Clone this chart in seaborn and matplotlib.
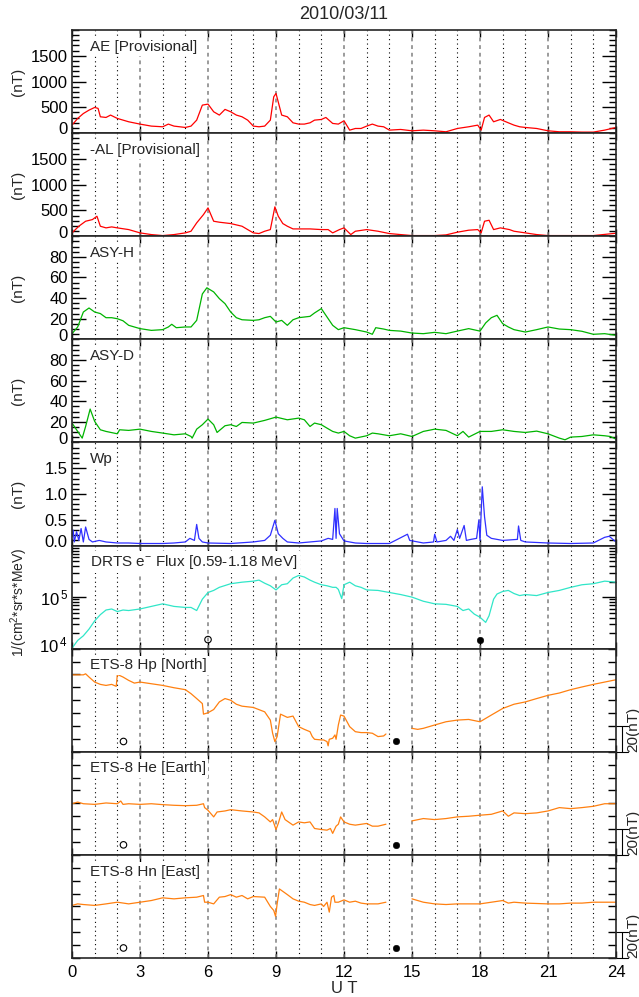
import numpy as np
import pandas as pd
import seaborn as sns
import matplotlib.pyplot as plt
import matplotlib.transforms as mtrans
from matplotlib.ticker import MultipleLocator, LogLocator, NullFormatter

# ---- data (UT hours) ----
ae_t = [0, 0.25, 0.5, 0.75, 1.0, 1.15, 1.25, 1.5, 1.7, 2.0, 2.5, 3.0, 3.5, 4.0, 4.25, 4.5, 5.0, 5.25, 5.5, 5.75,
        6.0, 6.25, 6.5, 6.75, 7.0, 7.25, 7.5, 7.75, 8.0, 8.25, 8.5, 8.75, 8.9, 9.0, 9.25, 9.5, 9.75, 10.0, 10.25,
        10.5, 10.7, 11.0, 11.2, 11.5, 11.75, 12.0, 12.25, 12.5, 12.75, 13.0, 13.25, 13.5, 13.75, 14.0, 14.5, 15.0,
        15.5, 16.0, 16.5, 17.0, 17.5, 17.9, 18.05, 18.2, 18.4, 18.6, 18.9, 19.25, 19.5, 19.75, 20.0, 20.5, 21.0,
        21.5, 22.0, 22.5, 23.0, 23.5, 24.0]
ae_v = [155, 285, 380, 446, 498, 480, 317, 304, 350, 285, 220, 175, 136, 123, 175, 136, 110, 136, 252, 543,
        563, 414, 350, 460, 414, 350, 317, 252, 136, 123, 136, 252, 705, 770, 350, 317, 200, 175, 175,
        200, 252, 265, 304, 188, 175, 240, 58, 90, 90, 136, 175, 136, 123, 58, 71, 45,
        58, 45, 26, 90, 123, 155, 58, 304, 350, 220, 265, 200, 155, 123, 110, 90, 45,
        26, 26, 20, 20, 58, 110]

al_t = [0, 0.3, 0.6, 0.9, 1.1, 1.25, 1.5, 1.75, 2.0, 2.5, 3.0, 3.5, 4.0, 4.5, 5.0, 5.25, 5.5, 5.8, 6.0, 6.25,
        6.5, 7.0, 7.5, 7.75, 8.0, 8.25, 8.5, 8.75, 8.95, 9.1, 9.3, 9.5, 9.75, 10.0, 10.5, 11.0, 11.3, 11.5, 11.8,
        12.0, 12.3, 12.5, 13.0, 13.5, 14.0, 14.5, 15.0, 16.0, 16.5, 17.0, 17.5, 17.9, 18.05, 18.2, 18.4, 18.6,
        18.9, 19.3, 19.5, 20.0, 20.5, 21.0, 22.0, 23.0, 24.0]
al_v = [65, 194, 291, 323, 388, 194, 162, 181, 162, 129, 65, 32, 13, 32, 65, 97, 259, 420, 550, 291,
        272, 246, 194, 129, 65, 52, 97, 129, 570, 388, 246, 194, 142, 142, 142, 129, 129, 65, 129,
        162, 32, 97, 129, 97, 52, 32, 13, 13, 26, 78, 117, 129, 65, 291, 310, 129,
        162, 129, 97, 65, 32, 13, 13, 13, 58]

asyh_t = [0, 0.25, 0.5, 0.75, 1.0, 1.25, 1.5, 1.75, 2.0, 2.25, 2.5, 3.0, 3.5, 4.0, 4.25, 4.4, 4.6, 5.0, 5.25,
          5.5, 5.75, 5.95, 6.25, 6.5, 6.75, 7.0, 7.25, 7.5, 8.0, 8.25, 8.5, 8.75, 9.0, 9.25, 9.5, 9.75, 10.0,
          10.5, 10.7, 11.0, 11.25, 11.5, 11.75, 12.0, 12.5, 13.0, 13.25, 13.4, 13.75, 14.0, 14.5, 15.0, 15.5,
          16.0, 16.5, 17.0, 17.5, 18.0, 18.25, 18.5, 18.75, 19.0, 19.25, 19.5, 20.0, 20.5, 21.0, 21.5, 22.0,
          22.5, 23.0, 23.5, 24.0]
asyh_v = [5.5, 12, 26.5, 30.4, 26.5, 25, 21, 21, 20, 18, 13.6, 10.4, 8.7, 9.4, 12, 14.6, 11.3, 12, 12,
          18.4, 44, 50, 46, 39.5, 34.6, 26.5, 21, 19, 18.4, 19, 21, 22.3, 16.8, 18.4, 13.6, 19, 21,
          22.3, 25.6, 29.8, 21.7, 13.6, 9.4, 11.3, 9.4, 7.1, 4.9, 11.3, 10, 8.7, 8, 6.1, 5.5,
          6.8, 5.5, 8, 10.4, 8, 15.9, 21, 23.3, 15.2, 12, 9.4, 7.1, 9.4, 12, 10, 9.4,
          7.8, 4.9, 5.5, 3.9]

asyd_t = [0, 0.25, 0.45, 0.6, 0.8, 1.0, 1.25, 1.5, 2.0, 2.1, 2.5, 3.0, 3.5, 4.0, 4.5, 5.0, 5.25, 5.3, 5.5,
          5.75, 6.0, 6.25, 6.4, 6.75, 7.0, 7.25, 7.5, 8.0, 8.5, 9.0, 9.5, 10.0, 10.25, 10.5, 10.7, 11.0, 11.25,
          11.5, 11.75, 12.0, 12.25, 12.5, 13.0, 13.25, 13.5, 14.0, 14.5, 15.0, 15.5, 16.0, 16.5, 17.0, 17.25,
          17.5, 18.0, 18.5, 19.0, 19.5, 20.0, 20.5, 21.0, 21.5, 21.75, 22.0, 22.5, 23.0, 23.5, 23.75, 24.0]
asyd_v = [18.8, 10.7, 4.2, 15.5, 32.4, 20.4, 12.3, 10.7, 8.4, 12.3, 11.7, 12.9, 10.7, 9.1, 7.4, 8.4, 5.8, 4.2, 12.9,
          17.2, 22.7, 17.2, 9.7, 16.2, 17.2, 15.5, 19.4, 18.8, 21.4, 24.6, 22, 23.6, 22, 15.5, 18.8, 17.2, 13.9,
          10.7, 9.1, 10.7, 6.5, 4.2, 6.5, 9.1, 8.4, 6.5, 8.4, 5.8, 10.7, 12.9, 11.7, 6.5, 10.7,
          5.2, 10.7, 10.7, 12.3, 10.7, 9.7, 11, 8.4, 4.2, 2.6, 5.2, 5.8, 7.4, 6.5, 5.8, 3.2]

wp_t = [0, 0.05, 0.1, 0.2, 0.3, 0.4, 0.5, 0.6, 0.75, 0.9, 1.2, 1.5, 2.0, 2.5, 3.0, 4.0, 4.5, 5.0, 5.2, 5.4,
        5.5, 5.6, 5.75, 6.0, 7.0, 8.0, 8.5, 8.75, 8.95, 9.1, 9.3, 9.5, 10.0, 11.0, 11.3, 11.5, 11.6, 11.65,
        11.7, 11.8, 12.0, 12.5, 13.0, 14.0, 14.8, 14.9, 15.5, 15.95, 16.0, 16.1, 16.5, 16.7, 16.85, 17.0,
        17.1, 17.3, 17.4, 17.6, 17.85, 17.95, 18.0, 18.1, 18.2, 18.3, 18.5, 19.0, 19.65, 19.7, 19.8, 20.0,
        21.0, 22.0, 23.0, 23.5, 23.7, 24.0]
wp_v = [0.17, 0.3, 0.07, 0.27, 0.1, 0.33, 0.07, 0.36, 0.12, 0.07, 0.1, 0.07, 0.05, 0.05, 0.04, 0.04, 0.05, 0.07,
        0.14, 0.1, 0.41, 0.14, 0.07, 0.05, 0.04, 0.07, 0.1, 0.2, 0.49, 0.23, 0.14, 0.07, 0.05, 0.09, 0.14,
        0.12, 0.72, 0.14, 0.72, 0.23, 0.09, 0.05, 0.04, 0.04, 0.22, 0.1, 0.05, 0.07, 0.22, 0.07, 0.1, 0.18,
        0.1, 0.31, 0.14, 0.39, 0.1, 0.12, 0.14, 0.5, 0.1, 1.14, 0.56, 0.2, 0.14, 0.1, 0.12, 0.38, 0.1,
        0.07, 0.05, 0.04, 0.05, 0.16, 0.18, 0.07]

drts_t = [0, 0.25, 0.5, 0.75, 1.0, 1.25, 1.5, 1.75, 2.0, 2.25, 2.5, 3.0, 3.5, 4.0, 4.5, 5.0, 5.25, 5.5, 5.75,
          6.0, 6.25, 6.5, 7.0, 7.5, 8.0, 8.25, 8.5, 8.75, 9.0, 9.25, 9.5, 9.75, 10.0, 10.25, 10.5, 10.7, 11.0,
          11.25, 11.5, 11.65, 11.75, 11.9, 12.0, 12.25, 12.5, 12.75, 13.0, 13.5, 14.0, 14.5, 15.0, 15.5, 16.0,
          16.5, 17.0, 17.25, 17.5, 17.75, 18.0, 18.25, 18.4, 18.6, 18.75, 19.0, 19.25, 19.5, 19.75, 20.0,
          20.5, 21.0, 21.5, 22.0, 22.5, 23.0, 23.5, 24.0]
drts_log = [4.01, 4.16, 4.25, 4.38, 4.54, 4.66, 4.75, 4.77, 4.72, 4.75, 4.74, 4.77, 4.82, 4.87, 4.82, 4.80, 4.80,
            4.74, 4.96, 5.09, 5.13, 5.19, 5.26, 5.29, 5.31, 5.33, 5.27, 5.22, 5.14, 5.24, 5.26, 5.37, 5.42,
            5.39, 5.33, 5.29, 5.24, 5.22, 5.19, 5.19, 5.15, 4.97, 5.24, 5.29, 5.22, 5.19, 5.14, 5.13, 5.09,
            5.05, 5.0, 4.92, 4.87, 4.86, 4.82, 4.74, 4.77, 4.67, 4.61, 4.51, 4.64, 4.96, 5.06, 5.11, 5.13,
            5.07, 5.03, 5.05, 5.03, 5.09, 5.13, 5.19, 5.24, 5.26, 5.31, 5.29]

# ETS-8 magnetometer (relative nT, data gap around 14-15 UT marked with nan)
hp_t = [0, 0.5, 0.6, 0.75, 1.0, 1.25, 1.5, 1.75, 1.95, 2.0, 2.25, 2.5, 2.75, 3.0, 3.5, 4.0, 4.5, 5.0, 5.25, 5.5,
        5.75, 5.8, 6.0, 6.25, 6.5, 6.75, 7.0, 7.25, 7.5, 8.0, 8.5, 8.75, 8.85, 8.95, 9.05, 9.2, 9.5, 9.75, 10.0,
        10.25, 10.5, 10.6, 10.7, 11.0, 11.1, 11.25, 11.3, 11.35, 11.5, 11.6, 11.65, 11.75, 11.85, 12.0, 12.25,
        12.5, 12.75, 13.0, 13.25, 13.5, 13.75, 13.85, 14.4,
        15.0, 15.25, 15.5, 16.0, 16.5, 17.0, 17.5, 18.0, 18.5, 19.0, 19.5, 20.0, 20.5, 21.0, 21.5, 22.0, 22.5,
        23.0, 23.5, 24.0]
hp_v = [59.7, 59.7, 60.5, 58, 54.1, 52.3, 51.5, 52.3, 50.8, 60, 58, 55.4, 53.3, 54.1, 52.8, 51.5, 49.7, 48.2, 45.1,
        41.3, 37.4, 29.2, 30.3, 32.8, 38.7, 41.3, 40, 36.9, 35.4, 34.4, 31, 24.6, 14.4, 7.9, 11.8, 29.2, 26.7,
        27.7, 19.5, 17.4, 15.6, 11.8, 9.7, 9.2, 9.2, 7.9, 4.6, 9.7, 10.5, 13.1, 9.7, 20.8, 28.5, 27.7, 19.5,
        15.6, 14.9, 14.9, 14.4, 11.8, 12.3, 13.8, np.nan,
        18.2, 17.4, 18.2, 20.8, 23.3, 24.6, 25.1, 23.3, 28.5, 33.6, 36.9, 38.7, 41.3, 43.8, 45.6, 48.2, 50.3,
        52.3, 54.1, 55.9]

he_t = [0, 0.25, 0.5, 1.0, 1.5, 2.0, 2.15, 2.25, 2.5, 3.0, 3.5, 4.0, 4.5, 5.0, 5.5, 5.8, 5.85, 6.0, 6.25, 6.4,
        6.75, 7.0, 7.5, 8.0, 8.25, 8.5, 8.75, 8.85, 9.0, 9.1, 9.25, 9.4, 9.75, 10.0, 10.25, 10.5, 10.7, 11.0,
        11.25, 11.4, 11.5, 11.65, 11.75, 11.85, 12.0, 12.25, 12.5, 13.0, 13.25, 13.5, 13.85, 14.4,
        15.0, 15.5, 16.0, 16.5, 17.0, 17.5, 18.0, 18.5, 19.0, 19.25, 19.5, 20.0, 20.5, 21.0, 21.5, 22.0, 22.5,
        23.0, 23.5, 24.0]
he_v = [39.7, 41, 39.7, 39.2, 40.3, 39.7, 41.8, 39.2, 39.7, 39.2, 39.7, 39, 38.5, 38.2, 38.5, 39.7, 36.7, 34.6,
        29.5, 33.3, 34.1, 35.1, 34.1, 33.3, 32.6, 29.5, 25.6, 27.4, 19.7, 24.4, 33.3, 27.4, 23.1, 25.6, 24.9,
        25.6, 20.5, 19.7, 19.2, 20.5, 16.7, 22.3, 23.8, 29.5, 25.6, 23.8, 23.1, 24.4, 22.3, 22.3, 23.8, np.nan,
        26.4, 28.2, 27.4, 28.2, 29.5, 30, 30.8, 31.5, 34.1, 30, 32.6, 32, 32.6, 34.1, 36.7, 35.9, 36.7,
        37.7, 39.7, 39.7]

hn_t = [0, 0.25, 0.5, 1, 1.5, 2, 2.5, 3, 3.5, 4, 4.5, 5, 5.5, 5.8, 5.85, 6.0, 6.25, 6.5, 6.75, 7.0, 7.25, 7.5,
        7.75, 8.0, 8.5, 8.75, 8.9, 8.98, 9.05, 9.15, 9.5, 9.75, 10, 10.25, 10.5, 10.7, 11, 11.1, 11.25, 11.35,
        11.45, 11.55, 11.6, 11.75, 12, 12.25, 12.5, 12.75, 13, 13.5, 13.85, 14.4,
        15, 15.25, 15.5, 16, 16.5, 17, 17.5, 18, 18.5, 19, 19.25, 19.5, 20, 21, 21.5, 22, 22.5, 23, 23.5, 24]
hn_v = [40.8, 42, 41.5, 40.8, 42, 43.3, 42, 43.3, 44.6, 46.7, 45.9, 46.7, 47.2, 48.5, 43.3, 43.3, 42, 47.2, 47.7,
        49.2, 47.2, 48.5, 45.9, 47.7, 47.2, 40, 36.9, 32.3, 42, 53.6, 49.2, 45.9, 44.1, 43.3, 41.5, 40.8, 42, 40,
        43.3, 35.6, 47.2, 48.5, 43.3, 43.3, 45.1, 43.3, 44.1, 42.6, 42, 42, 43.3, np.nan,
        45.9, 44.6, 43.3, 42, 41.5, 42, 42, 42, 43.3, 44.6, 42.6, 43.3, 42.6, 42, 42, 42.6, 42.6, 43.3, 43.3, 43.3]

# circle markers (open / filled)
drts_open = (6.0, 1.5e4)
drts_fill = (18.0, 1.5e4)
ets_open_t = 2.27
ets_fill_t = 14.28
ets_mark_v = [8.0, 7.8, 7.8]

labels = ['AE [Provisional]', '-AL [Provisional]', 'ASY-H', 'ASY-D', 'Wp',
          r'DRTS e$^{-}$ Flux [0.59-1.18 MeV]', 'ETS-8 Hp [North]', 'ETS-8 He [Earth]', 'ETS-8 Hn [East]']

RED, GREEN, BLUE, CYAN, ORANGE = '#ff0000', '#00b400', '#3030ff', '#30e6c8', '#ff8010'

sns.set_style('ticks')
plt.rcParams['font.family'] = ['Liberation Sans', 'DejaVu Sans']
plt.rcParams['mathtext.fontset'] = 'custom'
plt.rcParams['mathtext.rm'] = 'Liberation Sans'
plt.rcParams['mathtext.it'] = 'Liberation Sans'

fig, axes = plt.subplots(9, 1, figsize=(6.39, 9.97), dpi=100, sharex=True)
fig.subplots_adjust(left=0.1127, right=0.964, top=0.9699, bottom=0.0391, hspace=0)
lift = mtrans.ScaledTranslation(0, 3.4 / 72, fig.dpi_scale_trans)


def line(ax, t, v, color):
    df = pd.DataFrame({'t': t, 'v': v})
    df['seg'] = df['v'].isna().cumsum()
    df = df.dropna()
    sns.lineplot(data=df, x='t', y='v', units='seg', estimator=None, color=color, lw=0.9, ax=ax)
    ax.set_xlabel('')


def style(ax, label):
    ax.set_xlim(0, 24)
    for h in range(1, 24):
        if h % 3 == 0:
            ax.axvline(h, color='0.5', lw=1.1, ls=(0, (2.5, 2.5)), zorder=1)
        else:
            ax.axvline(h, color='black', lw=0.8, ls=(0, (1, 3)), zorder=1)
    ax.xaxis.set_major_locator(MultipleLocator(3))
    ax.tick_params(axis='both', which='both', direction='in', top=True, right=True,
                   labelsize=12, width=1, colors='black')
    ax.tick_params(axis='x', which='major', length=5, labelbottom=False)
    ax.tick_params(axis='y', which='major', length=10, pad=3)
    ax.tick_params(axis='y', which='minor', length=5)
    for sp in ax.spines.values():
        sp.set_linewidth(1.2)
    ax.text(0.033, 0.838, label, transform=ax.transAxes, fontsize=11, va='center', zorder=4,
            bbox=dict(facecolor='white', edgecolor='none', pad=1.5))


def nt_axis(ax, top, step, minor, fmt):
    ax.set_ylim(0, top)
    ticks = np.arange(0, top - step / 2, step)
    ax.set_yticks(ticks, [fmt.format(x) for x in ticks])
    ax.yaxis.set_minor_locator(MultipleLocator(minor))
    lab = ax.get_yticklabels()[0]
    lab.set_transform(lab.get_transform() + lift)
    ax.set_ylabel('(nT)', fontsize=11, va='center')
    ax.yaxis.set_label_coords(-0.1, 0.5)


for ax, lab in zip(axes, labels):
    style(ax, lab)

line(axes[0], ae_t, ae_v, RED)
nt_axis(axes[0], 2000, 500, 100, '{:.0f}')
line(axes[1], al_t, al_v, RED)
nt_axis(axes[1], 2000, 500, 100, '{:.0f}')
line(axes[2], asyh_t, asyh_v, GREEN)
nt_axis(axes[2], 100, 20, 5, '{:.0f}')
line(axes[3], asyd_t, asyd_v, GREEN)
nt_axis(axes[3], 100, 20, 5, '{:.0f}')
line(axes[4], wp_t, wp_v, BLUE)
nt_axis(axes[4], 2.0, 0.5, 0.1, '{:.1f}')

# electron flux panel (log)
ax = axes[5]
line(ax, drts_t, [10 ** x for x in drts_log], CYAN)
ax.set_yscale('log')
ax.set_ylim(1e4, 1e6)
ax.set_yticks([1e4, 1e5], [r'$10^{\,4}$', r'$10^{\,5}$'])
ax.yaxis.set_minor_locator(LogLocator(base=10, subs=np.arange(2, 10)))
ax.yaxis.set_minor_formatter(NullFormatter())
lab = ax.get_yticklabels()[0]
lab.set_transform(lab.get_transform() + lift)
ax.set_ylabel(r'1/(cm$^{2}$*sr*s*MeV)', fontsize=10, va='center')
ax.yaxis.set_label_coords(-0.098, 0.45)
sns.scatterplot(x=[drts_open[0]], y=[drts_open[1]], ax=ax, s=22, facecolor='none', edgecolor='black', lw=0.8)
sns.scatterplot(x=[drts_fill[0]], y=[drts_fill[1]], ax=ax, s=22, color='black', edgecolor='black')

# ETS-8 panels
for ax, t, v, mv in zip(axes[6:], [hp_t, he_t, hn_t], [hp_v, he_v, hn_v], ets_mark_v):
    line(ax, t, v, ORANGE)
    ax.set_ylim(0, 80)
    ax.set_yticks(np.arange(0, 81, 10), [''] * 9)
    ax.tick_params(axis='y', which='major', length=6)
    ax.set_ylabel('')
    sns.scatterplot(x=[ets_open_t], y=[mv], ax=ax, s=22, facecolor='none', edgecolor='black', lw=0.8)
    sns.scatterplot(x=[ets_fill_t], y=[mv], ax=ax, s=22, color='black', edgecolor='black')
    # 20 nT scale bar on the right
    ax.plot([24.25, 24.25], [0, 20], color='black', lw=0.8, clip_on=False)
    ax.plot([24.0, 24.52], [20, 20], color='black', lw=0.8, clip_on=False)
    ax.plot([24.0, 24.52], [0, 0], color='black', lw=0.8, clip_on=False)
    ax.text(24.75, 0, '20(nT)', rotation=90, ha='center', va='bottom', fontsize=11, clip_on=False)

axes[-1].set_xlim(0, 24)
axes[-1].tick_params(axis='x', labelbottom=True, pad=5)
axes[-1].set_xticks(range(0, 25, 3))
axes[-1].set_xlabel('')

fig.text(0.5385, 0.985, '2010/03/11', ha='center', va='center', fontsize=13)
fig.text(0.5383, 0.009, 'U T', ha='center', va='center', fontsize=12)

fig.savefig('out.png', dpi=100)
